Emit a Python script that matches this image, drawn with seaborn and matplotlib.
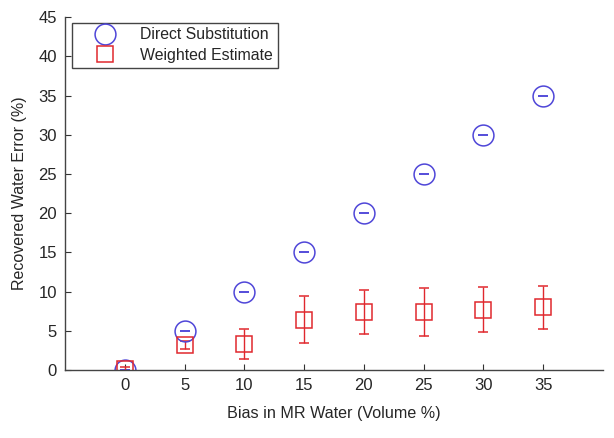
import matplotlib
matplotlib.use("Agg")
import matplotlib.pyplot as plt
import seaborn as sns
import numpy as np

bias = [0, 5, 10, 15, 20, 25, 30, 35]
direct = [0, 5, 10, 15, 20, 25, 30, 35]
direct_err = [0, 0, 0, 0, 0, 0, 0, 0]
weighted = [0.1, 3.2, 3.3, 6.45, 7.35, 7.45, 7.7, 8.0]
weighted_err = [0.3, 0.5, 1.9, 2.95, 2.8, 3.05, 2.9, 2.7]

sns.set_style("ticks")
plt.rcParams['font.family'] = ['Liberation Sans', 'DejaVu Sans']
plt.rcParams['xtick.direction'] = 'in'
plt.rcParams['ytick.direction'] = 'in'

blue = '#4f46d8'
red = '#e0282e'

fig = plt.figure(figsize=(6.14, 4.38), dpi=100)
ax = fig.add_axes([0.106, 0.155, 0.876, 0.806])

ax.errorbar(bias, direct, yerr=direct_err, fmt='o', ms=15, mfc='none',
            mec=blue, mew=1.1, ecolor=blue, elinewidth=1.0, capsize=3.6,
            capthick=1.1, label='Direct Substitution')
ax.errorbar(bias, weighted, yerr=weighted_err, fmt='s', ms=11.5, mfc='none',
            mec=red, mew=1.1, ecolor=red, elinewidth=1.0, capsize=3.3,
            capthick=1.0, label='Weighted Estimate')

ax.set_xlim(-5, 40)
ax.set_ylim(0, 45)
ax.set_xticks(bias)
ax.set_yticks(np.arange(0, 46, 5))
ax.tick_params(labelsize=12, length=4, color='#333333', pad=6)
sns.despine(ax=ax)
for s in ['left', 'bottom']:
    ax.spines[s].set_color('#444444')
    ax.spines[s].set_linewidth(1.0)

ax.set_xlabel('Bias in MR Water (Volume %)', fontsize=11.6, labelpad=9)
ax.set_ylabel('Recovered Water Error (%)', fontsize=11.5, labelpad=8)

handles, labels = ax.get_legend_handles_labels()
handles = [h[0] for h in handles]
leg = ax.legend(handles, labels, loc='upper left', fontsize=11.4,
                bbox_to_anchor=(0.013, 0.984), borderaxespad=0,
                fancybox=False, edgecolor='#444444', framealpha=1,
                handletextpad=0.4, handlelength=3.6, borderpad=0.3,
                labelspacing=0.35)
leg.get_frame().set_linewidth(1.0)

fig.savefig('out.png', dpi=100)
